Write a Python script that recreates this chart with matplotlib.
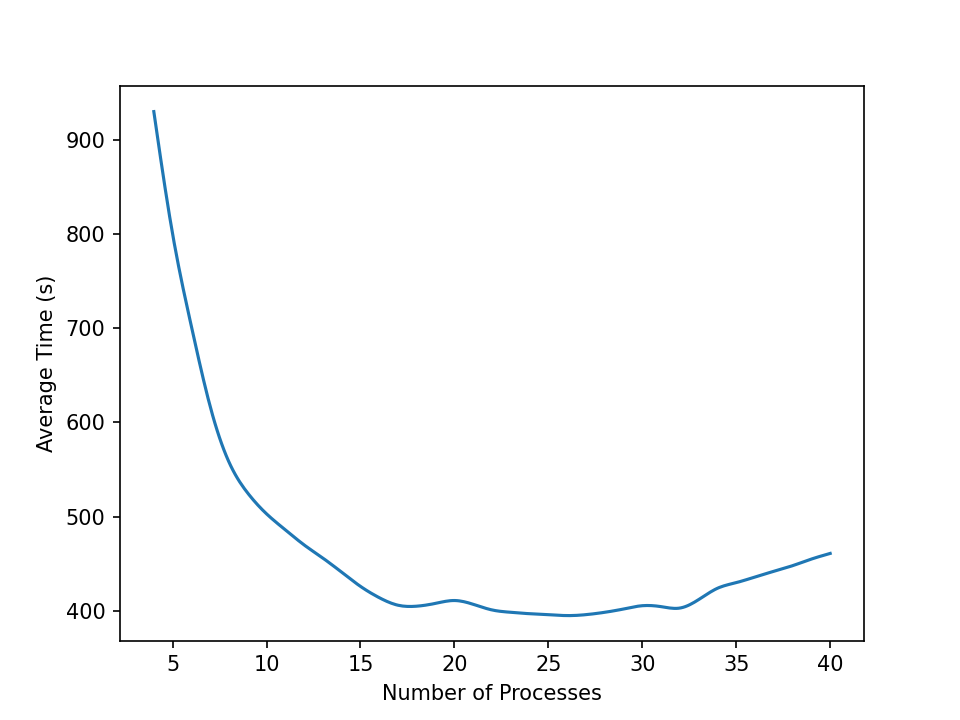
import matplotlib
matplotlib.use("Agg")
import matplotlib.pyplot as plt
import numpy as np

# number of processes and averaged run time
processes = list(range(4, 41))
avg_time = [930, 800, 702, 617, 558, 525, 503, 486, 470, 456, 441, 426,
            414, 406, 405, 408, 411, 407, 401, 398.5, 397, 396, 395, 396,
            398.5, 402, 405.5, 404.5, 403, 412, 424, 430, 436, 442, 448,
            455, 461]


def smooth(x, y, num=300):
    # natural cubic spline, only used to draw the line smoothly
    x = np.asarray(x, float)
    y = np.asarray(y, float)
    n = len(x)
    h = np.diff(x)
    A = np.zeros((n, n))
    b = np.zeros(n)
    A[0, 0] = A[-1, -1] = 1
    for i in range(1, n - 1):
        A[i, i - 1] = h[i - 1]
        A[i, i] = 2 * (h[i - 1] + h[i])
        A[i, i + 1] = h[i]
        b[i] = 3 * ((y[i + 1] - y[i]) / h[i] - (y[i] - y[i - 1]) / h[i - 1])
    c = np.linalg.solve(A, b)
    xs = np.linspace(x[0], x[-1], num)
    idx = np.clip(np.searchsorted(x, xs) - 1, 0, n - 2)
    dx = xs - x[idx]
    hi = h[idx]
    bi = (y[idx + 1] - y[idx]) / hi - hi * (2 * c[idx] + c[idx + 1]) / 3
    di = (c[idx + 1] - c[idx]) / (3 * hi)
    ys = y[idx] + bi * dx + c[idx] * dx ** 2 + di * dx ** 3
    return xs, ys


fig = plt.figure(figsize=(6.4, 4.8), dpi=150)
xs, ys = smooth(processes, avg_time)
plt.plot(xs, ys)
plt.xlabel('Number of Processes')
plt.ylabel('Average Time (s)')
plt.savefig('out.png')
